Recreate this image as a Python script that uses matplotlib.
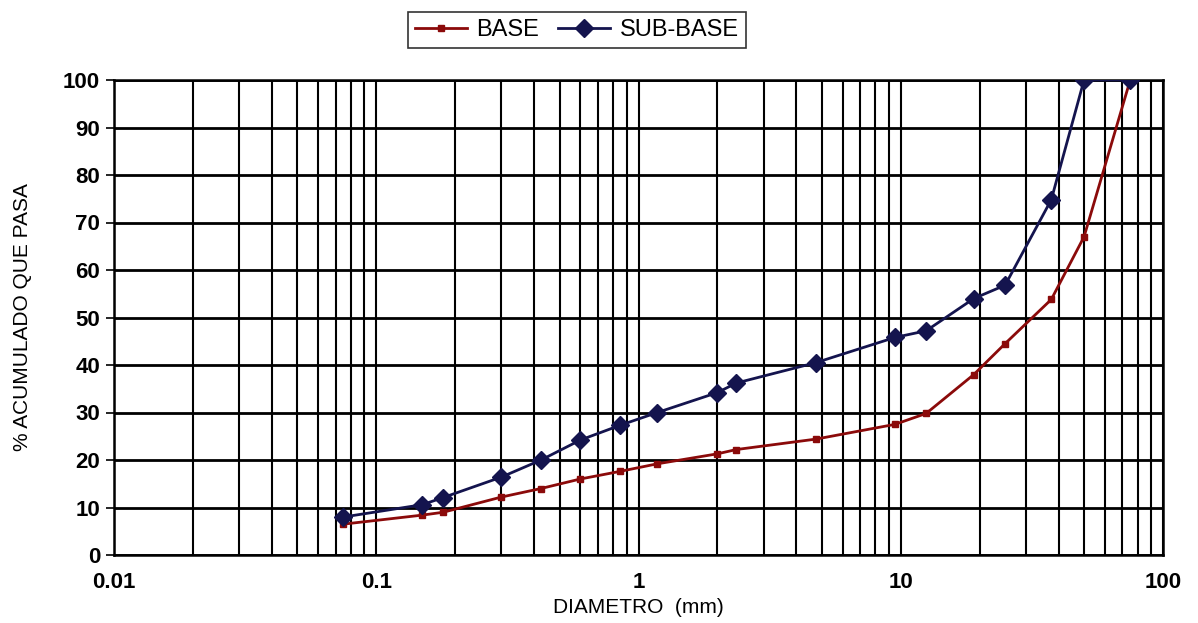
import matplotlib
matplotlib.use('Agg')
from matplotlib import pyplot as plt
from matplotlib.ticker import FixedLocator, LogLocator, NullFormatter
import numpy as np

# tamices (mm)
diametro = [0.075, 0.15, 0.18, 0.3, 0.425, 0.6, 0.85, 1.18, 2.0, 2.36,
            4.75, 9.5, 12.5, 19.0, 25.0, 37.5, 50.0, 75.0]
base = [6.5, 8.4, 9.0, 12.2, 14.0, 16.0, 17.6, 19.2, 21.3, 22.2,
        24.4, 27.5, 29.8, 38.0, 44.5, 53.8, 67.0, 100.0]
sub_base = [8.0, 10.6, 12.1, 16.4, 20.0, 24.2, 27.3, 30.0, 34.2, 36.2,
            40.5, 45.8, 47.2, 54.0, 56.8, 74.8, 100.0, 100.0]
yticks = [0, 10, 20, 30, 40, 50, 60, 70, 80, 90, 100]
xticks = [0.01, 0.1, 1, 10, 100]
xtick_labels = ['0.01', '0.1', '1', '10', '100']

plt.rcParams['font.family'] = ['Liberation Sans', 'DejaVu Sans']

fig = plt.figure(figsize=(11.98, 6.23), dpi=100)
ax = fig.add_axes([114/1198, 68/623, (1163-114)/1198, (555-80)/623])

ax.set_xscale('log')
ax.set_xlim(0.01, 100)
ax.set_ylim(0, 100)

ax.xaxis.set_major_locator(FixedLocator(xticks))
ax.set_xticklabels(xtick_labels, fontsize=16, fontweight='bold')
ax.xaxis.set_minor_locator(LogLocator(base=10, subs=np.arange(2, 10)))
ax.xaxis.set_minor_formatter(NullFormatter())
ax.set_yticks(yticks)
ax.set_yticklabels([str(v) for v in yticks], fontsize=16, fontweight='bold')

ax.grid(True, which='major', axis='y', color='black', lw=2.0)
ax.grid(True, which='both', axis='x', color='black', lw=1.5)
ax.tick_params(axis='x', which='both', length=0, pad=12)
ax.tick_params(axis='y', length=6, width=1.2, pad=4)
for s in ax.spines.values():
    s.set_color('black')
    s.set_linewidth(1.8)

l1, = ax.plot(diametro, base, color='#8B0A0A', lw=2, marker='s', ms=4,
              label='BASE', zorder=3)
l2, = ax.plot(diametro, sub_base, color='#14144E', lw=2, marker='D', ms=9,
              label='SUB-BASE', zorder=4)

ax.set_xlabel('DIAMETRO  (mm)', fontsize=15, labelpad=4)
ax.set_ylabel('% ACUMULADO QUE PASA', fontsize=15, labelpad=22)

leg = fig.legend(handles=[l1, l2], loc='center',
                 bbox_to_anchor=(577/1198, 1 - 30/623), ncol=2,
                 fontsize=17, frameon=True, fancybox=False,
                 handlelength=2.2, columnspacing=0.8, handletextpad=0.4,
                 borderpad=0.3)
leg.get_frame().set_edgecolor('black')
leg.get_frame().set_linewidth(1.2)

fig.savefig('out.png', dpi=100)
